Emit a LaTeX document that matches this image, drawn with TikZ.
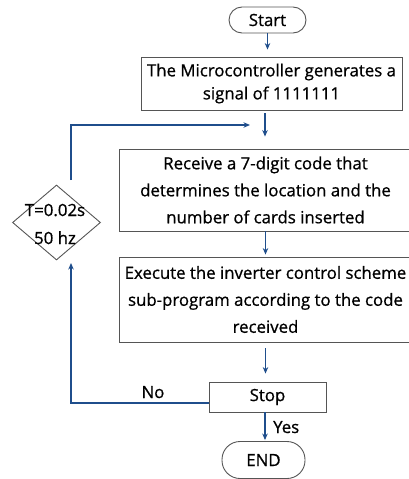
\documentclass[tikz,border=0pt]{standalone}
\usepackage{fontspec}
\setmainfont{Open Sans}[FakeBold=0.8]
\usetikzlibrary{arrows.meta,shapes.geometric}
\definecolor{flowblue}{HTML}{1F4E8C}
\definecolor{edgegray}{HTML}{555555}
\tikzset{
  proc/.style={draw=edgegray, line width=0.9pt, rectangle, inner sep=0pt, align=center,
    font=\fontsize{16.8}{27}\selectfont},
  term/.style={draw=edgegray, line width=0.9pt, rectangle, rounded corners=13pt, inner sep=0pt,
    font=\fontsize{16.8}{27}\selectfont},
  cond/.style={draw=edgegray, line width=0.9pt, diamond, inner sep=0pt},
  condtext/.style={align=center, inner sep=0pt, font=\fontsize{16.8}{28}\selectfont},
  flow/.style={draw=flowblue, line width=1.4pt, -{Stealth[length=6.5pt,width=5.5pt]}},
  lbl/.style={font=\fontsize{16.8}{18}\selectfont, inner sep=0pt, anchor=base}
}
\begin{document}
\begin{tikzpicture}[x=1pt,y=-1pt]
\useasboundingbox (0,0) rectangle (408,479);

\node[term, minimum width=77pt, minimum height=26pt] (start) at (267.5,20) {Start};
\node[proc, minimum width=261pt, minimum height=53pt, font=\fontsize{16.8}{23}\selectfont] (b1) at (271.5,83.5)
  {The Microcontroller generates a\\signal of 1111111};
\node[proc, minimum width=293pt, minimum height=82pt] (b2) at (265.5,190)
  {Receive a 7-digit code that\\determines the location and the\\number of cards inserted};
\node[proc, minimum width=293pt, minimum height=85pt] (b3) at (265.5,299.5)
  {Execute the inverter control scheme\\sub-program according to the code\\received};
\node[proc, minimum width=117pt, minimum height=30pt] (stop) at (267.5,397) {Stop};
\node[term, rounded corners=18pt, minimum width=83pt, minimum height=37pt] (end) at (263.5,460) {END};

% timing condition: the diamond is drawn at a fixed size, its text overflows the edges
\node[cond, minimum width=88pt, minimum height=75pt] (cyc) at (56.5,222.5) {};
\node[condtext] (cyctxt) at (55,224) {T=0.02s\\50 hz};

% loop-back coordinates
\coordinate (up) at (71,180);
\coordinate (lo) at (71,263);
\coordinate (join) at (250,125);

\draw[flow, shorten >=7pt] (start.south |- 0,33) -- (start.south |- b1.north);
\draw[flow, shorten <=3pt, shorten >=12pt] (b1.south -| 265,0) -- (b2.north -| 265,0);
\draw[flow, shorten >=2pt] (b2.south) -- (b3.north);
\draw[flow, shorten <=6pt, shorten >=8pt] (b3.south) -- (stop.north -| b3.south);
\draw[flow, shorten >=1pt] (stop.south -| 265,0) -- (end.north -| 265,0);
\draw[flow] (up) |- (join);
\draw[flow] ([yshift=-6pt]stop.west) -| (lo);

\node[lbl] (no) at (153,398) {No};
\node[lbl, anchor=base west] (yes) at (273,433) {Yes};
\end{tikzpicture}
\end{document}
